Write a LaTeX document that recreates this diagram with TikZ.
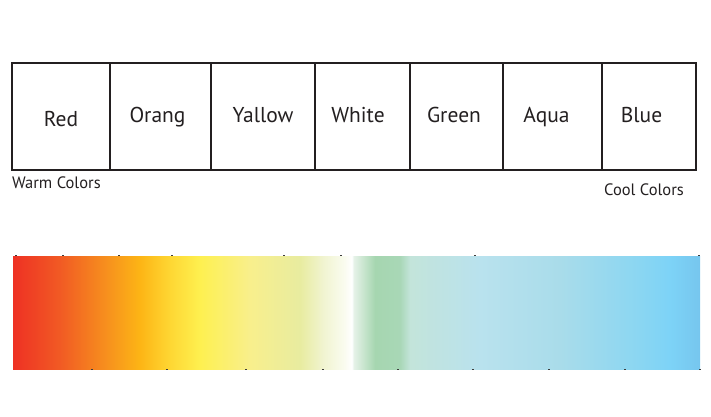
\documentclass[tikz,border=0pt]{standalone}
\usepackage{fontspec}
\setmainfont{PT Sans}
\usepackage{xcolor}
\usepackage{tikz}
\usetikzlibrary{positioning, calc}
\definecolor{boxdark}{RGB}{35,31,32}
\definecolor{tickgray}{RGB}{60,60,60}
% colour stops of the spectrum bar (the bar covers 25bp..75bp)
\pgfdeclarehorizontalshading{spectrum}{100bp}{
  rgb(0bp)=(0.933,0.192,0.141);
  rgb(25bp)=(0.933,0.192,0.141);
  rgb(28.4bp)=(0.945,0.353,0.141);
  rgb(32.05bp)=(0.969,0.580,0.114);
  rgb(34.25bp)=(0.992,0.710,0.082);
  rgb(36.45bp)=(0.996,0.843,0.200);
  rgb(38.6bp)=(0.996,0.941,0.314);
  rgb(42.25bp)=(0.973,0.937,0.549);
  rgb(45.9bp)=(0.910,0.925,0.627);
  rgb(47.6bp)=(0.945,0.957,0.820);
  rgb(49.15bp)=(0.980,0.988,0.941);
  rgb(49.65bp)=(1,1,1);
  rgb(49.8bp)=(0.902,0.949,0.910);
  rgb(51.35bp)=(0.651,0.839,0.690);
  rgb(53.15bp)=(0.659,0.843,0.714);
  rgb(53.9bp)=(0.765,0.894,0.855);
  rgb(59bp)=(0.725,0.886,0.933);
  rgb(64.8bp)=(0.663,0.863,0.918);
  rgb(70.65bp)=(0.541,0.839,0.949);
  rgb(72.8bp)=(0.490,0.827,0.969);
  rgb(75bp)=(0.463,0.776,0.933);
  rgb(100bp)=(0.463,0.776,0.933)}
\tikzset{
  boxline/.style={draw=boxdark,line width=2.6pt},
  colname/.style={anchor=base,font=\fontsize{21.5}{24}\selectfont,text=boxdark,inner sep=0pt},
  groupname/.style={anchor=base,font=\fontsize{16.5}{19}\selectfont,text=boxdark,inner sep=0pt},
  tick/.style={draw=tickgray,line width=1pt}
}
\begin{document}
\begin{tikzpicture}[x=1pt,y=-1pt]
  \useasboundingbox (0,0) rectangle (711,416);

  % row of colour boxes
  \draw[boxline] (12,63) rectangle (696,170);
  \foreach \xd in {110,211,315,410,503,602}
    \draw[boxline] (\xd,63) -- (\xd,170);

  % names in the boxes
  \node[colname] (red)    at (61,126)    {Red};
  \node[colname] (orange) at (157.5,122) {Orang};
  \node[colname] (yellow) at (263,122)   {Yallow};
  \node[colname] (white)  at (358,122)   {White};
  \node[colname] (green)  at (454,122)   {Green};
  \node[colname] (aqua)   at (546.5,122) {Aqua};
  \node[colname] (blue)   at (641.5,122) {Blue};

  % warm and cool
  \node[groupname, anchor=base west] (warm) at (12,188.5) {Warm Colors};
  \node[groupname, anchor=base east] (cool) at (684,195)  {Cool Colors};

  % spectrum bar
  \shade[shading=spectrum] (13,256) rectangle (700,369);

  % small marks on the edges of the bar
  \foreach \xt in {15,62,118,171,283,340,474,698}
    \draw[tick] (\xt,255.5) -- (\xt+2,255.5);
  \foreach \xb in {91,166,245,322,397,472,548,624,699}
    \draw[tick] (\xb,369.5) -- (\xb+2,369.5);
\end{tikzpicture}
\end{document}
